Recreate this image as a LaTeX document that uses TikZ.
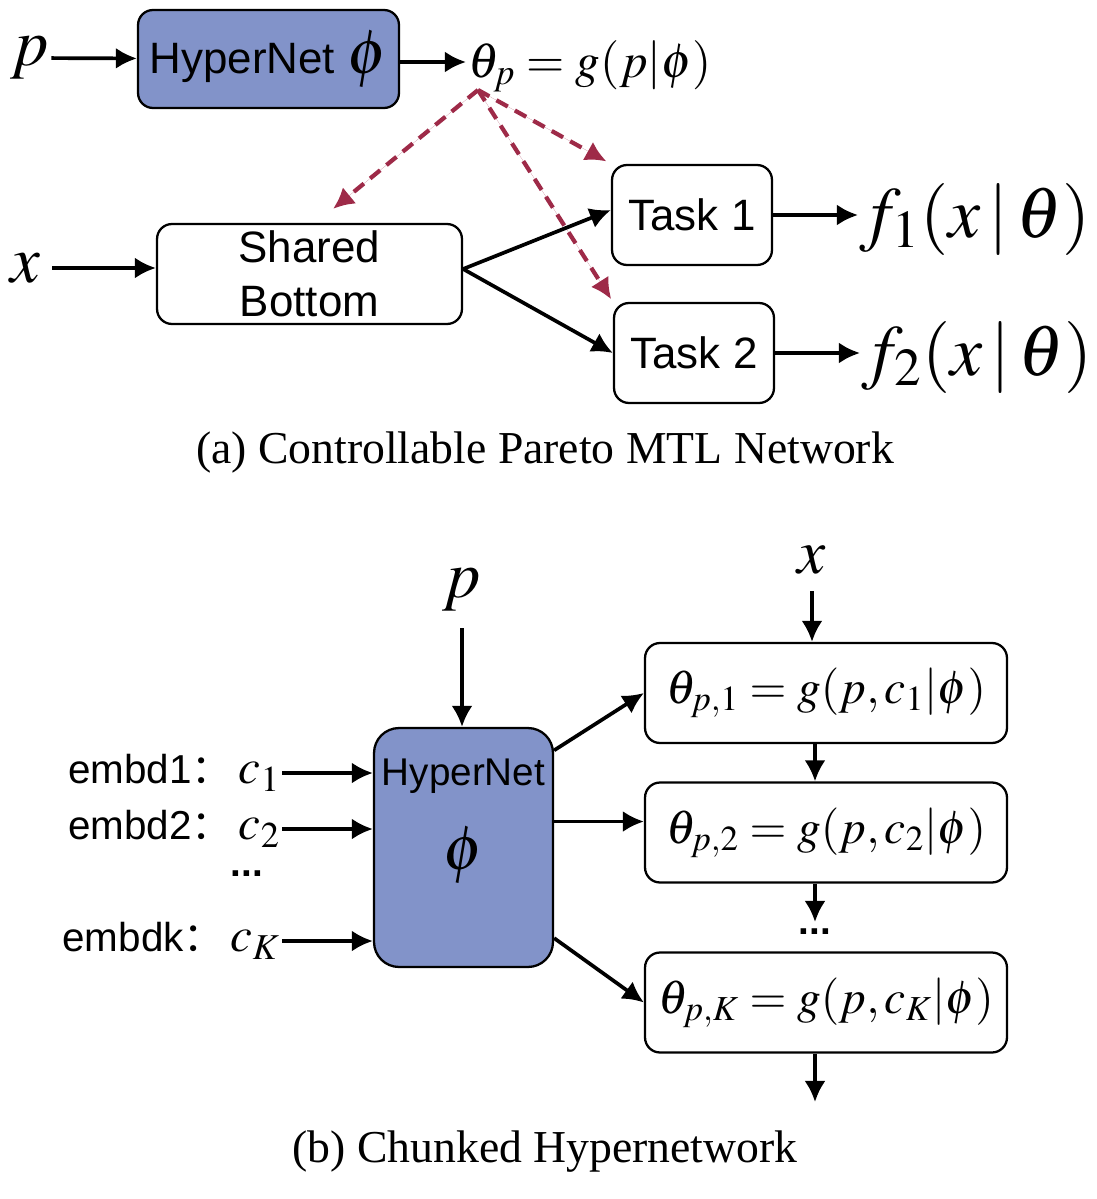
\documentclass[tikz,border=0pt]{standalone}
\usepackage{mathptmx}
\usepackage{fontspec}
\setmainfont{Liberation Serif}
\setsansfont{Liberation Sans}
\newfontfamily\cjkfont{Noto Sans CJK SC}
\usetikzlibrary{arrows.meta,calc,positioning}
\definecolor{hyperColor}{RGB}{130,147,201}
\definecolor{shareColor}{RGB}{158,42,72}
\tikzset{block/.style={draw, line width=1.3pt, rounded corners=.3cm, align=center, inner sep=0pt, font=\sffamily\fontsize{25}{31}\selectfont}}
\tikzset{hypernet/.style={block, fill=hyperColor}}
\tikzset{thetabox/.style={block, minimum width=7.24cm, minimum height=2cm, font=\fontsize{27}{30}\selectfont}}
\tikzset{mathtext/.style={inner sep=1pt, font=\fontsize{38}{38}\selectfont}}
\tikzset{sanstext/.style={inner sep=1pt, font=\sffamily\fontsize{23}{26}\selectfont}}
\tikzset{caption/.style={inner sep=0pt, font=\fontsize{26}{30}\selectfont}}
\tikzset{conn/.style={line width=2.1pt, -{Latex[length=12pt,width=12pt]}}}
\tikzset{dashconn/.style={conn, line width=2.4pt, draw=shareColor, fill=shareColor, dash pattern=on 7.4pt off 4.6pt}}
\newcommand{\cjkcolon}{{\cjkfont ：}}

\begin{document}
\begin{tikzpicture}[x=0.02cm, y=-0.02cm]
\useasboundingbox (0,0) rectangle (1097,1199);
% Nodes (a)
\node (PInTop) [mathtext] at (30,58) {$p$};
\node (HyperNetTop) [hypernet, minimum width=5.22cm, minimum height=1.96cm] at (268.5,59) {HyperNet {\fontsize{36}{36}\selectfont$\phi$}};
\node (ThetaTop) [mathtext, anchor=west, font=\fontsize{28}{28}\selectfont] at (466,66) {$\theta_p = g(p|\phi)$};
\coordinate (ThetaSrc) at (478,90);

\node (XInTop) [mathtext] at (25,268) {$x$};
\node (SharedBottom) [block, minimum width=6.1cm, minimum height=2cm] at (309.5,274) {Shared\\Bottom};
\node (TaskOne) [block, minimum width=3.2cm, minimum height=2cm] at (692,215) {Task 1};
\node (TaskTwo) [block, minimum width=3.2cm, minimum height=2cm] at (694,353) {Task 2};
\node (FOne) [mathtext, anchor=west, font=\fontsize{41}{41}\selectfont] at (858,219) {$f_1(x\,|\,\theta)$};
\node (FTwo) [mathtext, anchor=west, font=\fontsize{41}{41}\selectfont] at (860,357) {$f_2(x\,|\,\theta)$};

\node (CaptionA) [caption] at (545,453) {(a) Controllable Pareto MTL Network};

% Nodes (b)
\node (PInBot) [mathtext] at (462,590) {$p$};
\node (HyperNetBot) [hypernet, minimum width=3.58cm, minimum height=4.78cm, rounded corners=.5cm] at (463.5,847.5) {};
\node (HyperNetBotText) [sanstext, font=\sffamily\fontsize{22}{26}\selectfont, below=0.6cm of HyperNetBot.north] {HyperNet};
\node (HyperNetBotPhi) [mathtext, font=\fontsize{36}{36}\selectfont] at (463.5,855) {$\phi$};

\node (EmbdOne) [sanstext, anchor=east] at (282,773) {embd1\cjkcolon\,{\fontsize{28}{28}\selectfont$c_1$}};
\node (EmbdTwo) [sanstext, anchor=east] at (282,829) {embd2\cjkcolon\,{\fontsize{28}{28}\selectfont$c_2$}};
\node (EmbdDots) [sanstext, font=\sffamily\bfseries\fontsize{22}{26}\selectfont] at (247,874) {...};
\node (EmbdK) [sanstext, anchor=east] at (282,941) {embdk\cjkcolon\,{\fontsize{28}{28}\selectfont$c_K$}};

\node (XInBot) [mathtext, font=\fontsize{36}{36}\selectfont] at (812,560) {$x$};
\node (ThetaOne) [thetabox] at (826,693) {$\theta_{p,1} = g(p,c_1|\phi)$};
\node (ThetaTwo) [thetabox] at (826,832.5) {$\theta_{p,2} = g(p,c_2|\phi)$};
\node (ThetaDots) [sanstext, font=\sffamily\bfseries\fontsize{22}{26}\selectfont] at (815,932) {...};
\node (ThetaK) [thetabox] at (826,1002.5) {$\theta_{p,K} = g(p,c_K|\phi)$};
\coordinate (ThetaOut) at (815,1102);

\node (CaptionB) [caption] at (545,1152) {(b) Chunked Hypernetwork};

% Connectors (a)
\draw [conn] (PInTop) -- (HyperNetTop);
\draw [conn] ([yshift=-0.06cm]HyperNetTop.east) -- ([yshift=-0.06cm]HyperNetTop.east -| ThetaTop.west);
\draw [dashconn] (ThetaSrc) -- ([xshift=0.13cm]SharedBottom.north) [shorten >=0.44cm];
\draw [dashconn, shorten >=0.1cm] (ThetaSrc) -- (TaskOne.north west);
\draw [dashconn, shorten >=0.06cm] (ThetaSrc) -- (TaskTwo.north west);

\draw [conn, shorten <=0.2cm] (XInTop.east) -- (XInTop.east -| SharedBottom.west);
\draw [conn] ([yshift=0.1cm]SharedBottom.east) -- ([yshift=0.1cm]TaskOne.west);
\draw [conn] ([yshift=0.1cm]SharedBottom.east) -- (TaskTwo.west);
\draw [conn] (TaskOne.east) -- (TaskOne.east -| FOne.west);
\draw [conn] (TaskTwo.east) -- (TaskTwo.east -| FTwo.west);

% Connectors (b)
\draw [conn, shorten <=0.3cm] (PInBot.south) -- (PInBot.south |- HyperNetBot.north);
\draw [conn] (EmbdOne.east) -- (EmbdOne.east -| HyperNetBot.west);
\draw [conn] (EmbdTwo.east) -- (EmbdTwo.east -| HyperNetBot.west);
\draw [conn] (EmbdK.east) -- (EmbdK.east -| HyperNetBot.west);

\draw [conn] (HyperNetBot.47) -- (ThetaOne.west);
\draw [conn] (HyperNetBot.16) -- (HyperNetBot.16 -| ThetaTwo.west);
\draw [conn] (HyperNetBot.-45) -- (ThetaK.west);

\draw [conn, shorten <=0.3cm] (XInBot.south) -- (XInBot.south |- ThetaOne.north);
\draw [conn] (ThetaDots |- ThetaOne.south) -- (ThetaDots |- ThetaTwo.north);
\draw [conn, shorten >=0.1cm] (ThetaDots |- ThetaTwo.south) -- (ThetaDots.north);
\draw [conn] (ThetaDots |- ThetaK.south) -- (ThetaOut);

\end{tikzpicture}
\end{document}
